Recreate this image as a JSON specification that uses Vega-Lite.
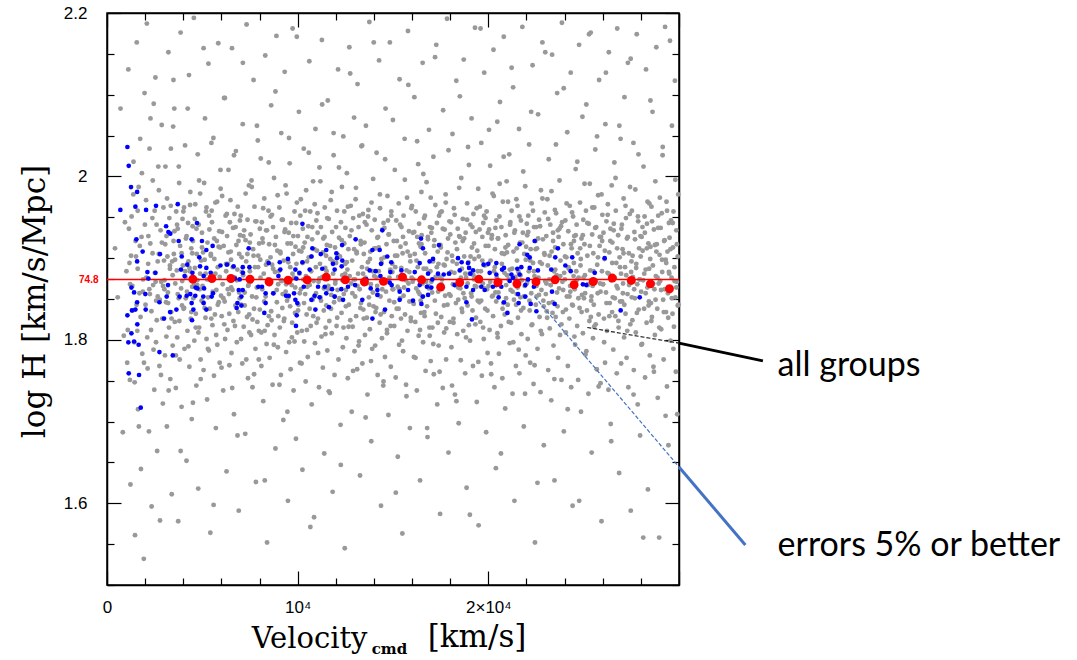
{
"$schema": "https://vega.github.io/schema/vega-lite/v6.json",
"width": 572, "height": 572,
"autosize": {"type": "none"},
"padding": {"left": 107, "top": 13, "right": 398, "bottom": 75},
"background": "white",
"config": {
 "view": {"stroke": "black", "strokeWidth": 1.5, "fill": "white"},
 "axis": {"grid": false, "zindex": 1, "domainColor": "black", "domainWidth": 1.5, "tickColor": "black", "tickWidth": 1.2, "labelColor": "black", "titleColor": "black"}
},
"datasets": {
 "all": [
{"v":420,"h":1.912},{"v":560,"h":1.852},{"v":710,"h":2.083},{"v":830,"h":1.687},{"v":940,"h":1.944},{"v":880,"h":1.805},
{"v":1060,"h":1.772},{"v":1120,"h":2.131},{"v":1180,"h":1.894},{"v":1230,"h":1.623},{"v":1290,"h":1.951},{"v":1340,"h":1.836},{"v":1390,"h":2.018},{"v":1450,"h":1.748},{"v":1470,"h":1.561},{"v":1210,"h":1.868},
{"v":1520,"h":1.902},{"v":1560,"h":2.164},{"v":1590,"h":1.811},{"v":1630,"h":1.715},{"v":1660,"h":1.987},{"v":1700,"h":1.857},{"v":1740,"h":2.046},{"v":1780,"h":1.642},{"v":1810,"h":1.926},{"v":1850,"h":1.783},{"v":1890,"h":1.874},{"v":1930,"h":1.532},{"v":1970,"h":2.102},{"v":1610,"h":1.958},
{"v":2020,"h":1.843},{"v":2050,"h":1.971},{"v":2090,"h":2.187},{"v":2130,"h":1.765},{"v":2160,"h":1.893},{"v":2200,"h":1.688},{"v":2230,"h":2.034},{"v":2270,"h":1.918},{"v":2310,"h":1.812},{"v":2340,"h":1.596},{"v":2380,"h":1.949},{"v":2420,"h":1.867},{"v":2450,"h":2.089},{"v":2480,"h":1.739},{"v":2250,"h":1.856},{"v":2400,"h":1.995},
{"v":2510,"h":1.882},{"v":2540,"h":2.121},{"v":2570,"h":1.797},{"v":2600,"h":1.941},{"v":2630,"h":1.664},{"v":2660,"h":1.853},{"v":2690,"h":2.012},{"v":2720,"h":1.905},{"v":2750,"h":1.768},{"v":2780,"h":1.579},{"v":2810,"h":1.934},{"v":2840,"h":1.871},{"v":2870,"h":2.063},{"v":2900,"h":1.826},{"v":2930,"h":1.722},{"v":2960,"h":1.962},{"v":2990,"h":1.897},{"v":2580,"h":1.848},
{"v":3015,"h":1.873},{"v":3040,"h":1.781},{"v":3065,"h":2.012},{"v":3095,"h":1.846},{"v":3120,"h":1.927},{"v":3140,"h":1.694},{"v":3170,"h":1.902},{"v":3195,"h":1.858},{"v":3220,"h":2.152},{"v":3250,"h":1.815},{"v":3270,"h":1.949},{"v":3300,"h":1.887},{"v":3320,"h":1.752},{"v":3345,"h":1.964},{"v":3370,"h":1.834},{"v":3395,"h":1.611},{"v":3420,"h":1.896},{"v":3445,"h":1.793},{"v":3470,"h":2.061},{"v":3490,"h":1.921},
{"v":3505,"h":1.905},{"v":3530,"h":2.083},{"v":3555,"h":1.822},{"v":3580,"h":1.869},{"v":3610,"h":1.741},{"v":3630,"h":1.957},{"v":3660,"h":1.885},{"v":3685,"h":1.803},{"v":3710,"h":1.936},{"v":3735,"h":1.578},{"v":3760,"h":1.851},{"v":3785,"h":1.992},{"v":3810,"h":1.776},{"v":3835,"h":1.915},{"v":3860,"h":2.176},{"v":3885,"h":1.863},{"v":3910,"h":1.718},{"v":3935,"h":1.842},{"v":3960,"h":1.948},{"v":3980,"h":1.891},
{"v":4015,"h":1.838},{"v":4040,"h":1.962},{"v":4065,"h":1.789},{"v":4095,"h":2.038},{"v":4120,"h":1.877},{"v":4140,"h":1.924},{"v":4170,"h":1.652},{"v":4195,"h":1.859},{"v":4220,"h":1.811},{"v":4250,"h":1.943},{"v":4270,"h":1.896},{"v":4300,"h":2.124},{"v":4320,"h":1.767},{"v":4345,"h":1.884},{"v":4370,"h":1.981},{"v":4395,"h":1.826},{"v":4420,"h":1.912},{"v":4445,"h":1.703},{"v":4470,"h":1.865},{"v":4490,"h":1.939},
{"v":4505,"h":1.921},{"v":4530,"h":1.851},{"v":4555,"h":2.194},{"v":4580,"h":1.799},{"v":4610,"h":1.888},{"v":4630,"h":1.966},{"v":4660,"h":1.832},{"v":4685,"h":1.744},{"v":4710,"h":1.905},{"v":4735,"h":1.873},{"v":4760,"h":2.027},{"v":4785,"h":1.618},{"v":4810,"h":1.941},{"v":4835,"h":1.815},{"v":4860,"h":1.862},{"v":4885,"h":1.979},{"v":4910,"h":1.776},{"v":4935,"h":1.897},{"v":4960,"h":1.848},{"v":4980,"h":1.931},
{"v":5015,"h":1.866},{"v":5040,"h":1.907},{"v":5065,"h":1.763},{"v":5095,"h":1.992},{"v":5120,"h":1.839},{"v":5140,"h":2.071},{"v":5170,"h":1.881},{"v":5195,"h":1.957},{"v":5220,"h":1.801},{"v":5250,"h":1.727},{"v":5270,"h":1.919},{"v":5300,"h":1.852},{"v":5320,"h":2.138},{"v":5345,"h":1.787},{"v":5370,"h":1.935},{"v":5395,"h":1.874},{"v":5420,"h":1.564},{"v":5445,"h":1.903},{"v":5470,"h":1.826},{"v":5490,"h":1.958},
{"v":5505,"h":1.944},{"v":5530,"h":1.818},{"v":5555,"h":1.877},{"v":5580,"h":2.047},{"v":5610,"h":1.756},{"v":5630,"h":1.899},{"v":5660,"h":1.831},{"v":5685,"h":1.968},{"v":5710,"h":1.692},{"v":5735,"h":1.861},{"v":5760,"h":1.921},{"v":5785,"h":1.794},{"v":5810,"h":1.889},{"v":5835,"h":2.163},{"v":5860,"h":1.846},{"v":5885,"h":1.933},{"v":5910,"h":1.772},{"v":5935,"h":1.913},{"v":5960,"h":1.985},{"v":5980,"h":1.854},
{"v":6015,"h":1.829},{"v":6040,"h":1.976},{"v":6065,"h":1.868},{"v":6095,"h":1.738},{"v":6120,"h":1.915},{"v":6140,"h":2.096},{"v":6170,"h":1.847},{"v":6195,"h":1.801},{"v":6220,"h":1.952},{"v":6250,"h":1.884},{"v":6270,"h":1.639},{"v":6300,"h":1.927},{"v":6320,"h":1.812},{"v":6345,"h":1.893},{"v":6370,"h":2.008},{"v":6395,"h":1.856},{"v":6420,"h":1.769},{"v":6445,"h":1.944},{"v":6470,"h":1.873},{"v":6490,"h":1.908},
{"v":6505,"h":1.898},{"v":6530,"h":1.784},{"v":6555,"h":2.157},{"v":6580,"h":1.861},{"v":6610,"h":1.937},{"v":6630,"h":1.823},{"v":6660,"h":1.709},{"v":6685,"h":1.954},{"v":6710,"h":1.876},{"v":6735,"h":1.842},{"v":6760,"h":2.031},{"v":6785,"h":1.916},{"v":6810,"h":1.797},{"v":6835,"h":1.886},{"v":6860,"h":1.963},{"v":6885,"h":1.834},{"v":6910,"h":1.591},{"v":6935,"h":1.905},{"v":6960,"h":1.851},{"v":6980,"h":1.928},
{"v":7015,"h":1.952},{"v":7040,"h":1.843},{"v":7065,"h":1.901},{"v":7095,"h":1.771},{"v":7120,"h":2.064},{"v":7140,"h":1.879},{"v":7170,"h":1.816},{"v":7195,"h":1.934},{"v":7220,"h":1.858},{"v":7250,"h":1.685},{"v":7270,"h":1.922},{"v":7300,"h":1.896},{"v":7320,"h":2.186},{"v":7345,"h":1.828},{"v":7370,"h":1.947},{"v":7395,"h":1.753},{"v":7420,"h":1.867},{"v":7445,"h":1.989},{"v":7470,"h":1.809},{"v":7490,"h":1.884},
{"v":7505,"h":1.871},{"v":7530,"h":1.929},{"v":7555,"h":1.806},{"v":7580,"h":1.995},{"v":7610,"h":1.853},{"v":7630,"h":1.742},{"v":7660,"h":1.911},{"v":7685,"h":2.118},{"v":7710,"h":1.838},{"v":7735,"h":1.963},{"v":7760,"h":1.889},{"v":7785,"h":1.789},{"v":7810,"h":1.626},{"v":7835,"h":1.945},{"v":7860,"h":1.864},{"v":7885,"h":1.822},{"v":7910,"h":2.044},{"v":7935,"h":1.903},{"v":7960,"h":1.776},{"v":7980,"h":1.918},
{"v":8015,"h":1.837},{"v":8040,"h":1.898},{"v":8065,"h":2.022},{"v":8095,"h":1.768},{"v":8120,"h":1.944},{"v":8140,"h":1.862},{"v":8170,"h":1.919},{"v":8195,"h":1.725},{"v":8220,"h":1.881},{"v":8250,"h":1.973},{"v":8270,"h":1.811},{"v":8300,"h":2.148},{"v":8320,"h":1.853},{"v":8345,"h":1.934},{"v":8370,"h":1.795},{"v":8395,"h":1.552},{"v":8420,"h":1.896},{"v":8445,"h":1.874},{"v":8470,"h":1.958},{"v":8490,"h":1.829},
{"v":8505,"h":1.917},{"v":8530,"h":1.778},{"v":8555,"h":1.869},{"v":8580,"h":1.951},{"v":8610,"h":2.087},{"v":8630,"h":1.824},{"v":8660,"h":1.892},{"v":8685,"h":1.745},{"v":8710,"h":1.938},{"v":8735,"h":1.857},{"v":8760,"h":1.998},{"v":8785,"h":1.806},{"v":8810,"h":1.883},{"v":8835,"h":1.667},{"v":8860,"h":1.926},{"v":8885,"h":2.172},{"v":8910,"h":1.846},{"v":8935,"h":1.909},{"v":8960,"h":1.791},{"v":8980,"h":1.868},
{"v":9015,"h":1.884},{"v":9040,"h":1.962},{"v":9065,"h":1.815},{"v":9095,"h":1.906},{"v":9120,"h":1.757},{"v":9140,"h":2.053},{"v":9170,"h":1.872},{"v":9195,"h":1.839},{"v":9220,"h":1.947},{"v":9250,"h":1.702},{"v":9270,"h":1.897},{"v":9300,"h":1.826},{"v":9320,"h":2.128},{"v":9345,"h":1.935},{"v":9370,"h":1.859},{"v":9395,"h":1.785},{"v":9420,"h":1.979},{"v":9445,"h":1.848},{"v":9470,"h":1.918},{"v":9490,"h":1.603},
{"v":9505,"h":1.852},{"v":9530,"h":1.931},{"v":9555,"h":1.797},{"v":9580,"h":2.016},{"v":9610,"h":1.889},{"v":9630,"h":1.764},{"v":9660,"h":1.943},{"v":9685,"h":1.867},{"v":9710,"h":1.821},{"v":9735,"h":2.181},{"v":9760,"h":1.905},{"v":9785,"h":1.738},{"v":9810,"h":1.876},{"v":9835,"h":1.957},{"v":9860,"h":1.833},{"v":9885,"h":1.914},{"v":9910,"h":1.679},{"v":9935,"h":1.893},{"v":9960,"h":1.968},{"v":9980,"h":1.809},
{"v":10015,"h":1.927},{"v":10040,"h":1.843},{"v":10065,"h":2.079},{"v":10095,"h":1.881},{"v":10120,"h":1.772},{"v":10140,"h":1.952},{"v":10170,"h":1.862},{"v":10195,"h":1.908},{"v":10220,"h":1.811},{"v":10250,"h":1.641},{"v":10270,"h":1.936},{"v":10300,"h":1.874},{"v":10320,"h":2.034},{"v":10345,"h":1.798},{"v":10370,"h":1.919},{"v":10395,"h":1.856},{"v":10420,"h":1.749},{"v":10445,"h":1.983},{"v":10470,"h":1.831},{"v":10490,"h":1.896},
{"v":10505,"h":1.865},{"v":10530,"h":1.779},{"v":10555,"h":1.939},{"v":10580,"h":1.901},{"v":10610,"h":2.141},{"v":10630,"h":1.838},{"v":10660,"h":1.957},{"v":10685,"h":1.817},{"v":10710,"h":1.884},{"v":10735,"h":1.721},{"v":10760,"h":1.923},{"v":10785,"h":1.849},{"v":10810,"h":1.994},{"v":10835,"h":1.872},{"v":10860,"h":1.583},{"v":10885,"h":1.911},{"v":10910,"h":1.796},{"v":10935,"h":2.058},{"v":10960,"h":1.857},{"v":10980,"h":1.946},
{"v":11015,"h":1.909},{"v":11040,"h":1.955},{"v":11065,"h":1.826},{"v":11095,"h":1.871},{"v":11120,"h":1.742},{"v":11140,"h":2.011},{"v":11170,"h":1.893},{"v":11195,"h":1.852},{"v":11220,"h":1.938},{"v":11250,"h":1.804},{"v":11270,"h":2.167},{"v":11300,"h":1.877},{"v":11320,"h":1.766},{"v":11345,"h":1.924},{"v":11370,"h":1.836},{"v":11395,"h":1.661},{"v":11420,"h":1.962},{"v":11445,"h":1.888},{"v":11470,"h":1.815},{"v":11490,"h":1.903},
{"v":11505,"h":1.842},{"v":11530,"h":1.916},{"v":11555,"h":1.787},{"v":11580,"h":2.093},{"v":11610,"h":1.866},{"v":11630,"h":1.948},{"v":11660,"h":1.823},{"v":11685,"h":1.735},{"v":11710,"h":1.899},{"v":11735,"h":1.971},{"v":11760,"h":1.855},{"v":11785,"h":1.808},{"v":11810,"h":1.932},{"v":11835,"h":1.614},{"v":11860,"h":1.881},{"v":11885,"h":2.026},{"v":11910,"h":1.846},{"v":11935,"h":1.757},{"v":11960,"h":1.913},{"v":11980,"h":1.872},
{"v":12015,"h":1.894},{"v":12040,"h":1.817},{"v":12065,"h":1.958},{"v":12095,"h":1.861},{"v":12120,"h":2.131},{"v":12140,"h":1.776},{"v":12170,"h":1.925},{"v":12195,"h":1.849},{"v":12220,"h":1.902},{"v":12250,"h":1.696},{"v":12270,"h":1.944},{"v":12300,"h":1.833},{"v":12320,"h":1.987},{"v":12345,"h":1.873},{"v":12370,"h":1.791},{"v":12395,"h":2.049},{"v":12420,"h":1.856},{"v":12445,"h":1.918},{"v":12470,"h":1.545},{"v":12490,"h":1.881},
{"v":12505,"h":1.937},{"v":12530,"h":1.861},{"v":12555,"h":1.802},{"v":12580,"h":2.004},{"v":12610,"h":1.886},{"v":12630,"h":1.753},{"v":12660,"h":1.911},{"v":12685,"h":1.843},{"v":12710,"h":2.158},{"v":12735,"h":1.927},{"v":12760,"h":1.824},{"v":12785,"h":1.964},{"v":12810,"h":1.869},{"v":12835,"h":1.712},{"v":12860,"h":1.897},{"v":12885,"h":1.816},{"v":12910,"h":1.949},{"v":12935,"h":1.874},{"v":12960,"h":2.072},{"v":12980,"h":1.786},
{"v":13015,"h":1.853},{"v":13040,"h":1.972},{"v":13065,"h":1.829},{"v":13095,"h":1.906},{"v":13120,"h":1.764},{"v":13140,"h":2.113},{"v":13170,"h":1.881},{"v":13195,"h":1.938},{"v":13220,"h":1.798},{"v":13250,"h":1.862},{"v":13270,"h":1.634},{"v":13300,"h":1.921},{"v":13320,"h":1.845},{"v":13345,"h":2.037},{"v":13370,"h":1.889},{"v":13395,"h":1.771},{"v":13420,"h":1.954},{"v":13445,"h":1.837},{"v":13470,"h":1.905},{"v":13490,"h":1.868},
{"v":13505,"h":1.919},{"v":13530,"h":1.806},{"v":13555,"h":1.876},{"v":13580,"h":2.062},{"v":13610,"h":1.941},{"v":13630,"h":1.827},{"v":13660,"h":1.733},{"v":13685,"h":1.895},{"v":13710,"h":1.959},{"v":13735,"h":1.852},{"v":13760,"h":2.189},{"v":13785,"h":1.813},{"v":13810,"h":1.908},{"v":13835,"h":1.868},{"v":13860,"h":1.676},{"v":13885,"h":1.934},{"v":13910,"h":1.789},{"v":13935,"h":1.884},{"v":13960,"h":1.997},{"v":13980,"h":1.841},
{"v":14015,"h":1.878},{"v":14040,"h":1.947},{"v":14065,"h":1.793},{"v":14095,"h":1.912},{"v":14120,"h":1.839},{"v":14140,"h":2.029},{"v":14170,"h":1.866},{"v":14195,"h":1.757},{"v":14220,"h":1.926},{"v":14250,"h":1.884},{"v":14270,"h":2.142},{"v":14300,"h":1.821},{"v":14320,"h":1.961},{"v":14345,"h":1.853},{"v":14370,"h":1.597},{"v":14395,"h":1.899},{"v":14420,"h":1.802},{"v":14445,"h":1.935},{"v":14470,"h":1.871},{"v":14490,"h":1.744},
{"v":14505,"h":1.943},{"v":14530,"h":1.834},{"v":14555,"h":1.901},{"v":14580,"h":1.779},{"v":14610,"h":2.083},{"v":14630,"h":1.859},{"v":14660,"h":1.917},{"v":14685,"h":1.812},{"v":14710,"h":1.976},{"v":14735,"h":1.873},{"v":14760,"h":1.708},{"v":14785,"h":1.929},{"v":14810,"h":1.848},{"v":14835,"h":2.164},{"v":14860,"h":1.886},{"v":14885,"h":1.767},{"v":14910,"h":1.952},{"v":14935,"h":1.829},{"v":14960,"h":1.893},{"v":14980,"h":1.862},
{"v":15015,"h":1.862},{"v":15040,"h":1.921},{"v":15065,"h":1.817},{"v":15095,"h":2.008},{"v":15120,"h":1.889},{"v":15140,"h":1.754},{"v":15170,"h":1.946},{"v":15195,"h":1.838},{"v":15220,"h":1.903},{"v":15250,"h":1.657},{"v":15270,"h":1.877},{"v":15300,"h":1.967},{"v":15320,"h":1.794},{"v":15345,"h":2.119},{"v":15370,"h":1.851},{"v":15395,"h":1.914},{"v":15420,"h":1.826},{"v":15445,"h":1.938},{"v":15470,"h":1.879},{"v":15490,"h":1.563},
{"v":15505,"h":1.906},{"v":15530,"h":1.786},{"v":15555,"h":1.952},{"v":15580,"h":1.864},{"v":15610,"h":2.046},{"v":15630,"h":1.831},{"v":15660,"h":1.918},{"v":15685,"h":1.745},{"v":15710,"h":1.885},{"v":15735,"h":1.974},{"v":15760,"h":1.811},{"v":15785,"h":2.178},{"v":15810,"h":1.869},{"v":15835,"h":1.933},{"v":15860,"h":1.847},{"v":15885,"h":1.692},{"v":15910,"h":1.896},{"v":15935,"h":1.823},{"v":15960,"h":1.961},{"v":15980,"h":1.876},
{"v":16015,"h":1.847},{"v":16040,"h":1.931},{"v":16065,"h":1.874},{"v":16095,"h":1.779},{"v":16120,"h":2.097},{"v":16140,"h":1.905},{"v":16170,"h":1.822},{"v":16195,"h":1.957},{"v":16220,"h":1.863},{"v":16250,"h":1.738},{"v":16270,"h":1.926},{"v":16300,"h":1.889},{"v":16320,"h":2.015},{"v":16345,"h":1.805},{"v":16370,"h":1.942},{"v":16395,"h":1.856},{"v":16420,"h":1.628},{"v":16445,"h":1.914},{"v":16470,"h":1.833},{"v":16490,"h":1.981},
{"v":16505,"h":1.928},{"v":16530,"h":1.853},{"v":16555,"h":2.139},{"v":16580,"h":1.797},{"v":16610,"h":1.887},{"v":16630,"h":1.949},{"v":16660,"h":1.829},{"v":16685,"h":1.906},{"v":16710,"h":1.762},{"v":16735,"h":1.871},{"v":16760,"h":1.993},{"v":16785,"h":1.841},{"v":16810,"h":1.681},{"v":16835,"h":1.923},{"v":16860,"h":1.866},{"v":16885,"h":2.057},{"v":16910,"h":1.815},{"v":16935,"h":1.938},{"v":16960,"h":1.884},{"v":16980,"h":1.774},
{"v":17015,"h":1.871},{"v":17040,"h":1.937},{"v":17065,"h":1.815},{"v":17095,"h":1.896},{"v":17120,"h":2.024},{"v":17140,"h":1.758},{"v":17170,"h":1.922},{"v":17195,"h":1.848},{"v":17220,"h":1.965},{"v":17250,"h":1.832},{"v":17270,"h":2.161},{"v":17300,"h":1.889},{"v":17320,"h":1.721},{"v":17345,"h":1.908},{"v":17370,"h":1.859},{"v":17395,"h":1.793},{"v":17420,"h":1.952},{"v":17445,"h":1.877},{"v":17470,"h":1.587},{"v":17490,"h":1.916},
{"v":17505,"h":1.913},{"v":17530,"h":1.828},{"v":17555,"h":1.957},{"v":17580,"h":1.866},{"v":17610,"h":1.741},{"v":17630,"h":2.081},{"v":17660,"h":1.892},{"v":17685,"h":1.809},{"v":17710,"h":1.935},{"v":17735,"h":1.854},{"v":17760,"h":1.978},{"v":17785,"h":1.776},{"v":17810,"h":1.899},{"v":17835,"h":2.193},{"v":17860,"h":1.843},{"v":17885,"h":1.924},{"v":17910,"h":1.662},{"v":17935,"h":1.881},{"v":17960,"h":1.945},{"v":17980,"h":1.822},
{"v":18015,"h":1.854},{"v":18040,"h":1.944},{"v":18065,"h":1.791},{"v":18095,"h":1.903},{"v":18120,"h":2.052},{"v":18140,"h":1.868},{"v":18170,"h":1.826},{"v":18195,"h":1.961},{"v":18220,"h":1.882},{"v":18250,"h":1.733},{"v":18270,"h":1.919},{"v":18300,"h":1.845},{"v":18320,"h":2.117},{"v":18345,"h":1.893},{"v":18370,"h":1.807},{"v":18395,"h":1.936},{"v":18420,"h":1.864},{"v":18445,"h":1.698},{"v":18470,"h":1.927},{"v":18490,"h":1.873},
{"v":18505,"h":1.926},{"v":18530,"h":1.863},{"v":18555,"h":1.775},{"v":18580,"h":1.998},{"v":18610,"h":1.887},{"v":18630,"h":1.834},{"v":18660,"h":1.948},{"v":18685,"h":1.811},{"v":18710,"h":2.143},{"v":18735,"h":1.902},{"v":18760,"h":1.851},{"v":18785,"h":1.759},{"v":18810,"h":1.931},{"v":18835,"h":1.876},{"v":18860,"h":1.619},{"v":18885,"h":1.967},{"v":18910,"h":1.842},{"v":18935,"h":2.036},{"v":18960,"h":1.895},{"v":18980,"h":1.818},
{"v":19015,"h":1.881},{"v":19040,"h":1.799},{"v":19065,"h":1.941},{"v":19095,"h":1.857},{"v":19120,"h":2.071},{"v":19140,"h":1.913},{"v":19170,"h":1.836},{"v":19195,"h":1.768},{"v":19220,"h":1.954},{"v":19250,"h":1.874},{"v":19270,"h":1.899},{"v":19300,"h":2.182},{"v":19320,"h":1.819},{"v":19345,"h":1.932},{"v":19370,"h":1.865},{"v":19395,"h":1.724},{"v":19420,"h":1.909},{"v":19445,"h":1.848},{"v":19470,"h":1.985},{"v":19490,"h":1.573},
{"v":19505,"h":1.902},{"v":19530,"h":1.846},{"v":19555,"h":1.963},{"v":19580,"h":1.822},{"v":19610,"h":1.884},{"v":19630,"h":2.041},{"v":19660,"h":1.756},{"v":19685,"h":1.926},{"v":19710,"h":1.869},{"v":19735,"h":1.943},{"v":19760,"h":1.801},{"v":19785,"h":2.127},{"v":19810,"h":1.891},{"v":19835,"h":1.838},{"v":19860,"h":1.915},{"v":19885,"h":1.687},{"v":19910,"h":1.957},{"v":19935,"h":1.862},{"v":19960,"h":1.784},{"v":19980,"h":1.931},
{"v":20015,"h":1.866},{"v":20040,"h":1.935},{"v":20065,"h":1.812},{"v":20095,"h":2.013},{"v":20120,"h":1.897},{"v":20140,"h":1.771},{"v":20170,"h":1.924},{"v":20195,"h":1.853},{"v":20220,"h":1.979},{"v":20250,"h":1.829},{"v":20270,"h":2.155},{"v":20300,"h":1.884},{"v":20320,"h":1.742},{"v":20345,"h":1.911},{"v":20370,"h":1.858},{"v":20395,"h":1.643},{"v":20420,"h":1.946},{"v":20445,"h":1.876},{"v":20470,"h":2.067},{"v":20490,"h":1.803},
{"v":20505,"h":1.924},{"v":20530,"h":1.858},{"v":20555,"h":1.783},{"v":20580,"h":1.951},{"v":20610,"h":2.091},{"v":20630,"h":1.872},{"v":20660,"h":1.817},{"v":20685,"h":1.938},{"v":20710,"h":1.893},{"v":20735,"h":1.753},{"v":20760,"h":1.969},{"v":20785,"h":1.845},{"v":20810,"h":2.171},{"v":20835,"h":1.905},{"v":20860,"h":1.831},{"v":20885,"h":1.716},{"v":20910,"h":1.928},{"v":20935,"h":1.867},{"v":20960,"h":1.994},{"v":20980,"h":1.879},
{"v":21015,"h":1.843},{"v":21040,"h":1.916},{"v":21065,"h":1.874},{"v":21095,"h":2.027},{"v":21120,"h":1.796},{"v":21140,"h":1.941},{"v":21170,"h":1.861},{"v":21195,"h":1.821},{"v":21220,"h":1.958},{"v":21250,"h":1.887},{"v":21270,"h":1.734},{"v":21300,"h":2.109},{"v":21320,"h":1.908},{"v":21345,"h":1.849},{"v":21370,"h":1.603},{"v":21395,"h":1.934},{"v":21420,"h":1.877},{"v":21445,"h":1.768},{"v":21470,"h":1.972},{"v":21490,"h":1.856},
{"v":21505,"h":1.897},{"v":21530,"h":1.964},{"v":21555,"h":1.827},{"v":21580,"h":1.883},{"v":21610,"h":2.058},{"v":21630,"h":1.759},{"v":21660,"h":1.919},{"v":21685,"h":1.852},{"v":21710,"h":1.946},{"v":21735,"h":1.807},{"v":21760,"h":1.873},{"v":21785,"h":2.183},{"v":21810,"h":1.931},{"v":21835,"h":1.839},{"v":21860,"h":1.694},{"v":21885,"h":1.905},{"v":21910,"h":1.866},{"v":21935,"h":1.988},{"v":21960,"h":1.781},{"v":21980,"h":1.914},
{"v":22015,"h":1.869},{"v":22040,"h":1.928},{"v":22065,"h":1.801},{"v":22095,"h":1.952},{"v":22120,"h":1.884},{"v":22140,"h":2.039},{"v":22170,"h":1.836},{"v":22195,"h":1.772},{"v":22220,"h":1.911},{"v":22250,"h":1.857},{"v":22270,"h":1.967},{"v":22300,"h":1.819},{"v":22320,"h":2.136},{"v":22345,"h":1.894},{"v":22370,"h":1.746},{"v":22395,"h":1.938},{"v":22420,"h":1.878},{"v":22445,"h":1.552},{"v":22470,"h":1.921},{"v":22490,"h":1.843},
{"v":22505,"h":1.938},{"v":22530,"h":1.853},{"v":22555,"h":1.912},{"v":22580,"h":1.789},{"v":22610,"h":2.076},{"v":22630,"h":1.876},{"v":22660,"h":1.947},{"v":22685,"h":1.828},{"v":22710,"h":1.895},{"v":22735,"h":1.736},{"v":22760,"h":1.983},{"v":22785,"h":1.861},{"v":22810,"h":1.807},{"v":22835,"h":2.164},{"v":22860,"h":1.923},{"v":22885,"h":1.848},{"v":22910,"h":1.671},{"v":22935,"h":1.906},{"v":22960,"h":1.956},{"v":22980,"h":1.872},
{"v":23015,"h":1.856},{"v":23040,"h":1.927},{"v":23065,"h":1.835},{"v":23095,"h":1.972},{"v":23120,"h":1.891},{"v":23140,"h":1.763},{"v":23170,"h":2.021},{"v":23195,"h":1.874},{"v":23220,"h":1.814},{"v":23250,"h":1.941},{"v":23270,"h":1.867},{"v":23300,"h":1.726},{"v":23320,"h":1.908},{"v":23345,"h":2.149},{"v":23370,"h":1.846},{"v":23395,"h":1.931},{"v":23420,"h":1.793},{"v":23445,"h":1.884},{"v":23470,"h":1.628},{"v":23490,"h":1.959},
{"v":23505,"h":1.913},{"v":23530,"h":1.828},{"v":23555,"h":1.955},{"v":23580,"h":1.879},{"v":23610,"h":2.102},{"v":23630,"h":1.841},{"v":23660,"h":1.778},{"v":23685,"h":1.926},{"v":23710,"h":1.863},{"v":23735,"h":1.995},{"v":23760,"h":1.806},{"v":23785,"h":1.897},{"v":23810,"h":1.939},{"v":23835,"h":1.751},{"v":23860,"h":2.188},{"v":23885,"h":1.871},{"v":23910,"h":1.834},{"v":23935,"h":1.917},{"v":23960,"h":1.688},{"v":23980,"h":1.882},
{"v":24015,"h":1.874},{"v":24040,"h":1.946},{"v":24065,"h":1.809},{"v":24095,"h":1.901},{"v":24120,"h":1.853},{"v":24140,"h":2.054},{"v":24170,"h":1.768},{"v":24195,"h":1.933},{"v":24220,"h":1.887},{"v":24250,"h":1.826},{"v":24270,"h":1.964},{"v":24300,"h":1.859},{"v":24320,"h":2.127},{"v":24345,"h":1.742},{"v":24370,"h":1.912},{"v":24395,"h":1.843},{"v":24420,"h":1.597},{"v":24445,"h":1.951},{"v":24470,"h":1.878},{"v":24490,"h":1.921},
{"v":24505,"h":1.927},{"v":24530,"h":1.862},{"v":24555,"h":1.794},{"v":24580,"h":2.009},{"v":24610,"h":1.884},{"v":24630,"h":1.941},{"v":24660,"h":1.817},{"v":24685,"h":1.906},{"v":24710,"h":1.751},{"v":24735,"h":1.876},{"v":24760,"h":2.161},{"v":24785,"h":1.839},{"v":24810,"h":1.968},{"v":24835,"h":1.891},{"v":24860,"h":1.712},{"v":24885,"h":1.924},{"v":24910,"h":1.855},{"v":24935,"h":2.073},{"v":24960,"h":1.808},{"v":24980,"h":1.947},
{"v":25015,"h":1.851},{"v":25040,"h":1.917},{"v":25065,"h":1.879},{"v":25095,"h":1.782},{"v":25120,"h":1.958},{"v":25140,"h":2.088},{"v":25170,"h":1.836},{"v":25195,"h":1.903},{"v":25220,"h":1.867},{"v":25250,"h":1.734},{"v":25270,"h":1.942},{"v":25300,"h":1.823},{"v":25320,"h":1.991},{"v":25345,"h":1.885},{"v":25370,"h":2.176},{"v":25395,"h":1.848},{"v":25420,"h":1.662},{"v":25445,"h":1.929},{"v":25470,"h":1.866},{"v":25490,"h":1.802},
{"v":25505,"h":1.906},{"v":25530,"h":1.843},{"v":25555,"h":1.962},{"v":25580,"h":1.871},{"v":25610,"h":2.033},{"v":25630,"h":1.819},{"v":25660,"h":1.938},{"v":25685,"h":1.764},{"v":25710,"h":1.892},{"v":25735,"h":1.857},{"v":25760,"h":1.977},{"v":25785,"h":1.831},{"v":25810,"h":2.118},{"v":25835,"h":1.915},{"v":25860,"h":1.869},{"v":25885,"h":1.747},{"v":25910,"h":1.926},{"v":25935,"h":1.578},{"v":25960,"h":1.884},{"v":25980,"h":1.953},
{"v":26015,"h":1.868},{"v":26040,"h":1.931},{"v":26065,"h":1.826},{"v":26095,"h":1.899},{"v":26120,"h":1.772},{"v":26140,"h":2.064},{"v":26170,"h":1.858},{"v":26195,"h":1.945},{"v":26220,"h":1.811},{"v":26250,"h":1.882},{"v":26270,"h":1.966},{"v":26300,"h":1.739},{"v":26320,"h":2.152},{"v":26345,"h":1.907},{"v":26370,"h":1.845},{"v":26395,"h":1.921},{"v":26420,"h":1.697},{"v":26445,"h":1.873},{"v":26470,"h":1.989},{"v":26490,"h":1.834},
{"v":26505,"h":1.919},{"v":26530,"h":1.852},{"v":26555,"h":1.788},{"v":26580,"h":1.942},{"v":26610,"h":2.017},{"v":26630,"h":1.876},{"v":26660,"h":1.829},{"v":26685,"h":1.958},{"v":26710,"h":1.894},{"v":26735,"h":1.759},{"v":26760,"h":2.181},{"v":26785,"h":1.863},{"v":26810,"h":1.928},{"v":26835,"h":1.815},{"v":26860,"h":1.637},{"v":26885,"h":1.901},{"v":26910,"h":1.847},{"v":26935,"h":2.046},{"v":26960,"h":1.881},{"v":26980,"h":1.936},
{"v":27015,"h":1.847},{"v":27040,"h":1.911},{"v":27065,"h":1.869},{"v":27095,"h":1.973},{"v":27120,"h":1.803},{"v":27140,"h":2.097},{"v":27170,"h":1.889},{"v":27195,"h":1.832},{"v":27220,"h":1.949},{"v":27250,"h":1.778},{"v":27270,"h":1.924},{"v":27300,"h":1.856},{"v":27320,"h":2.139},{"v":27345,"h":1.742},{"v":27370,"h":1.906},{"v":27395,"h":1.871},{"v":27420,"h":1.954},{"v":27445,"h":1.819},{"v":27470,"h":1.591},{"v":27490,"h":1.883},
{"v":27505,"h":1.896},{"v":27530,"h":1.958},{"v":27555,"h":1.824},{"v":27580,"h":1.877},{"v":27610,"h":2.041},{"v":27630,"h":1.763},{"v":27660,"h":1.932},{"v":27685,"h":1.851},{"v":27710,"h":1.984},{"v":27735,"h":1.809},{"v":27760,"h":1.893},{"v":27785,"h":2.174},{"v":27810,"h":1.868},{"v":27835,"h":1.721},{"v":27860,"h":1.945},{"v":27885,"h":1.837},{"v":27910,"h":1.912},{"v":27935,"h":1.874},{"v":27960,"h":1.683},{"v":27980,"h":1.927},
{"v":28015,"h":1.859},{"v":28040,"h":1.926},{"v":28065,"h":1.795},{"v":28095,"h":1.909},{"v":28120,"h":1.873},{"v":28140,"h":2.012},{"v":28170,"h":1.838},{"v":28195,"h":1.951},{"v":28220,"h":1.754},{"v":28250,"h":1.886},{"v":28270,"h":2.131},{"v":28300,"h":1.821},{"v":28320,"h":1.942},{"v":28345,"h":1.864},{"v":28370,"h":1.617},{"v":28395,"h":1.918},{"v":28420,"h":1.847},{"v":28445,"h":1.967},{"v":28470,"h":1.781},{"v":28490,"h":1.899},
{"v":28505,"h":1.914},{"v":28530,"h":1.845},{"v":28555,"h":1.963},{"v":28580,"h":1.828},{"v":28610,"h":2.079},{"v":28630,"h":1.891},{"v":28660,"h":1.767},{"v":28685,"h":1.935},{"v":28710,"h":1.862},{"v":28735,"h":1.806},{"v":28760,"h":1.994},{"v":28785,"h":1.878},{"v":28810,"h":2.158},{"v":28835,"h":1.917},{"v":28860,"h":1.838},{"v":28885,"h":1.729},{"v":28910,"h":1.952},{"v":28935,"h":1.869},{"v":28960,"h":1.558},{"v":28980,"h":1.904},
{"v":29015,"h":1.872},{"v":29040,"h":1.937},{"v":29065,"h":1.813},{"v":29095,"h":1.955},{"v":29120,"h":1.883},{"v":29140,"h":2.026},{"v":29170,"h":1.849},{"v":29195,"h":1.776},{"v":29220,"h":1.921},{"v":29250,"h":1.862},{"v":29270,"h":2.183},{"v":29300,"h":1.898},{"v":29320,"h":1.834},{"v":29345,"h":1.969},{"v":29370,"h":1.743},{"v":29395,"h":1.908},{"v":29420,"h":1.857},{"v":29445,"h":1.671},{"v":29470,"h":1.943},{"v":29490,"h":1.881},
{"v":29505,"h":1.925},{"v":29530,"h":1.861},{"v":29555,"h":1.799},{"v":29580,"h":1.946},{"v":29610,"h":1.876},{"v":29630,"h":2.062},{"v":29660,"h":1.832},{"v":29685,"h":1.913},{"v":29710,"h":1.957},{"v":29735,"h":1.816},{"v":29760,"h":1.889},{"v":29785,"h":2.117},{"v":29810,"h":1.852},{"v":29835,"h":1.761},{"v":29860,"h":1.934},{"v":29885,"h":1.871},{"v":29910,"h":1.709},{"v":29935,"h":1.902},{"v":29960,"h":1.978},{"v":29980,"h":1.843},
{"v":1020,"h":1.884},{"v":1090,"h":1.812},{"v":1150,"h":1.936},{"v":1200,"h":1.751},{"v":1260,"h":1.903},{"v":1330,"h":1.866},{"v":1380,"h":1.978},{"v":1430,"h":1.797},{"v":1500,"h":1.921},{"v":1550,"h":1.843},{"v":1610,"h":1.887},{"v":1670,"h":1.694},{"v":1720,"h":1.915},{"v":1760,"h":1.828},{"v":1830,"h":2.004},{"v":1880,"h":1.859},{"v":1940,"h":1.772},{"v":1990,"h":1.941},{"v":2060,"h":1.876},{"v":2110,"h":1.803},{"v":2170,"h":1.927},{"v":2220,"h":1.862},{"v":2280,"h":2.071},{"v":2330,"h":1.835},{"v":2390,"h":1.906},{"v":2440,"h":1.788},{"v":2500,"h":1.958},{"v":2550,"h":1.871},{"v":2610,"h":1.824},{"v":2660,"h":1.896},{"v":2720,"h":1.983},{"v":2770,"h":1.849},{"v":2830,"h":1.757},{"v":2880,"h":1.919},{"v":2940,"h":1.866},
{"v":3010,"h":1.862},{"v":3053,"h":1.917},{"v":3114,"h":1.804},{"v":3151,"h":1.973},{"v":3206,"h":1.845},{"v":3235,"h":1.738},{"v":3302,"h":1.891},{"v":3351,"h":2.034},{"v":3386,"h":1.826},{"v":3444,"h":1.879},{"v":3485,"h":2.118},{"v":3537,"h":1.933},
{"v":3570,"h":1.898},{"v":3613,"h":1.781},{"v":3674,"h":1.941},{"v":3711,"h":1.856},{"v":3766,"h":2.012},{"v":3795,"h":1.823},{"v":3862,"h":1.664},{"v":3911,"h":1.906},{"v":3946,"h":1.872},{"v":4004,"h":1.957},{"v":4045,"h":1.839},{"v":4097,"h":1.884},
{"v":4130,"h":1.851},{"v":4173,"h":1.927},{"v":4234,"h":2.083},{"v":4271,"h":1.792},{"v":4326,"h":1.888},{"v":4355,"h":1.965},{"v":4422,"h":1.834},{"v":4471,"h":1.906},{"v":4506,"h":1.723},{"v":4564,"h":1.869},{"v":4605,"h":1.948},{"v":4657,"h":1.815},
{"v":4690,"h":1.936},{"v":4733,"h":1.867},{"v":4794,"h":1.809},{"v":4831,"h":1.995},{"v":4886,"h":1.881},{"v":4915,"h":1.752},{"v":4982,"h":1.913},{"v":5031,"h":1.846},{"v":5066,"h":2.157},{"v":5124,"h":1.898},{"v":5165,"h":1.827},{"v":5217,"h":1.962},
{"v":5250,"h":1.874},{"v":5293,"h":1.789},{"v":5354,"h":1.952},{"v":5391,"h":1.838},{"v":5446,"h":1.905},{"v":5475,"h":2.041},{"v":5542,"h":1.859},{"v":5591,"h":1.598},{"v":5626,"h":1.924},{"v":5684,"h":1.881},{"v":5725,"h":1.806},{"v":5777,"h":1.969},
{"v":5810,"h":1.843},{"v":5853,"h":1.914},{"v":5914,"h":1.877},{"v":5951,"h":2.008},{"v":6006,"h":1.766},{"v":6035,"h":1.932},{"v":6102,"h":1.851},{"v":6151,"h":1.819},{"v":6186,"h":2.096},{"v":6244,"h":1.893},{"v":6285,"h":1.954},{"v":6337,"h":1.862},
{"v":6370,"h":1.907},{"v":6413,"h":1.832},{"v":6474,"h":1.971},{"v":6511,"h":1.864},{"v":6566,"h":1.741},{"v":6595,"h":1.889},{"v":6662,"h":2.026},{"v":6711,"h":1.817},{"v":6746,"h":1.938},{"v":6804,"h":1.873},{"v":6845,"h":1.683},{"v":6897,"h":1.921},
{"v":6930,"h":1.858},{"v":6973,"h":1.946},{"v":7034,"h":1.801},{"v":7071,"h":1.883},{"v":7126,"h":2.139},{"v":7155,"h":1.927},{"v":7222,"h":1.842},{"v":7271,"h":1.979},{"v":7306,"h":1.776},{"v":7364,"h":1.905},{"v":7405,"h":1.866},{"v":7457,"h":1.831},
{"v":7490,"h":1.919},{"v":7533,"h":1.871},{"v":7594,"h":1.987},{"v":7631,"h":1.825},{"v":7686,"h":1.903},{"v":7715,"h":1.758},{"v":7782,"h":1.945},{"v":7831,"h":1.852},{"v":7866,"h":2.062},{"v":7924,"h":1.889},{"v":7965,"h":1.811},{"v":8017,"h":1.936},
{"v":8050,"h":1.876},{"v":8093,"h":1.809},{"v":8154,"h":1.924},{"v":8191,"h":1.961},{"v":8246,"h":1.847},{"v":8275,"h":1.628},{"v":8342,"h":1.892},{"v":8391,"h":1.934},{"v":8426,"h":1.818},{"v":8484,"h":2.017},{"v":8525,"h":1.868},{"v":8577,"h":1.901},
{"v":8610,"h":1.835},{"v":8653,"h":1.953},{"v":8714,"h":1.887},{"v":8751,"h":1.794},{"v":8806,"h":1.916},{"v":8835,"h":2.104},{"v":8902,"h":1.861},{"v":8951,"h":1.977},{"v":8986,"h":1.829},{"v":9044,"h":1.745},{"v":9085,"h":1.908},{"v":9137,"h":1.873},
{"v":9170,"h":1.947},{"v":9213,"h":1.856},{"v":9274,"h":1.823},{"v":9311,"h":1.932},{"v":9366,"h":1.989},{"v":9395,"h":1.868},{"v":9462,"h":1.712},{"v":9511,"h":1.895},{"v":9546,"h":2.047},{"v":9604,"h":1.841},{"v":9645,"h":1.918},{"v":9697,"h":1.803},
{"v":9730,"h":1.881},{"v":9773,"h":1.927},{"v":9834,"h":1.798},{"v":9871,"h":1.864},{"v":9926,"h":1.943},{"v":9955,"h":2.171},{"v":10022,"h":1.836},{"v":10071,"h":1.909},{"v":10106,"h":1.857},{"v":10164,"h":1.972},{"v":10205,"h":1.771},{"v":10257,"h":1.894},
{"v":10290,"h":1.913},{"v":10333,"h":1.845},{"v":10394,"h":1.958},{"v":10431,"h":1.878},{"v":10486,"h":1.812},{"v":10515,"h":1.926},{"v":10582,"h":2.029},{"v":10631,"h":1.867},{"v":10666,"h":1.571},{"v":10724,"h":1.902},{"v":10765,"h":1.938},{"v":10817,"h":1.829},
{"v":10850,"h":1.852},{"v":10893,"h":1.966},{"v":10954,"h":1.889},{"v":10991,"h":1.821},{"v":11046,"h":1.931},{"v":11075,"h":1.784},{"v":11142,"h":1.875},{"v":11191,"h":1.994},{"v":11226,"h":1.848},{"v":11284,"h":2.088},{"v":11325,"h":1.907},{"v":11377,"h":1.863},
{"v":11410,"h":1.926},{"v":11453,"h":1.807},{"v":11514,"h":1.884},{"v":11551,"h":1.949},{"v":11606,"h":1.862},{"v":11635,"h":1.737},{"v":11702,"h":1.915},{"v":11751,"h":1.838},{"v":11786,"h":1.981},{"v":11844,"h":1.896},{"v":11885,"h":2.053},{"v":11937,"h":1.853},
{"v":11970,"h":1.869},{"v":12013,"h":1.938},{"v":12074,"h":1.827},{"v":12111,"h":1.904},{"v":12166,"h":2.011},{"v":12195,"h":1.851},{"v":12262,"h":1.647},{"v":12311,"h":1.922},{"v":12346,"h":1.879},{"v":12404,"h":1.815},{"v":12445,"h":1.957},{"v":12497,"h":1.893},
{"v":12530,"h":1.841},{"v":12573,"h":1.895},{"v":12634,"h":1.963},{"v":12671,"h":1.816},{"v":12726,"h":1.878},{"v":12755,"h":2.126},{"v":12822,"h":1.934},{"v":12871,"h":1.857},{"v":12906,"h":1.762},{"v":12964,"h":1.911},{"v":13005,"h":1.874},{"v":13057,"h":1.986},
{"v":13090,"h":1.908},{"v":13133,"h":1.866},{"v":13194,"h":1.793},{"v":13231,"h":1.952},{"v":13286,"h":1.839},{"v":13315,"h":1.917},{"v":13382,"h":2.038},{"v":13431,"h":1.881},{"v":13466,"h":1.826},{"v":13524,"h":1.944},{"v":13565,"h":1.705},{"v":13617,"h":1.869},
{"v":13650,"h":1.887},{"v":13693,"h":1.951},{"v":13754,"h":1.843},{"v":13791,"h":1.899},{"v":13846,"h":1.774},{"v":13875,"h":1.968},{"v":13942,"h":1.858},{"v":13991,"h":2.164},{"v":14026,"h":1.912},{"v":14084,"h":1.834},{"v":14125,"h":1.876},{"v":14177,"h":1.925},
{"v":14210,"h":1.855},{"v":14253,"h":1.913},{"v":14314,"h":1.978},{"v":14351,"h":1.831},{"v":14406,"h":1.894},{"v":14435,"h":1.862},{"v":14502,"h":1.749},{"v":14551,"h":1.937},{"v":14586,"h":2.021},{"v":14644,"h":1.871},{"v":14685,"h":1.808},{"v":14737,"h":1.946},
{"v":14770,"h":1.929},{"v":14813,"h":1.876},{"v":14874,"h":1.817},{"v":14911,"h":1.957},{"v":14966,"h":1.883},{"v":14995,"h":2.069},{"v":15062,"h":1.846},{"v":15111,"h":1.903},{"v":15146,"h":1.613},{"v":15204,"h":1.921},{"v":15245,"h":1.865},{"v":15297,"h":1.838},
{"v":15330,"h":1.862},{"v":15373,"h":1.941},{"v":15434,"h":1.888},{"v":15471,"h":1.799},{"v":15526,"h":1.926},{"v":15555,"h":1.854},{"v":15622,"h":1.996},{"v":15671,"h":1.873},{"v":15706,"h":1.731},{"v":15764,"h":1.908},{"v":15805,"h":2.112},{"v":15857,"h":1.883},
{"v":15890,"h":1.903},{"v":15933,"h":1.827},{"v":15994,"h":1.964},{"v":16031,"h":1.871},{"v":16086,"h":1.844},{"v":16115,"h":1.932},{"v":16182,"h":1.778},{"v":16231,"h":1.897},{"v":16266,"h":2.043},{"v":16324,"h":1.859},{"v":16365,"h":1.918},{"v":16417,"h":1.812},
{"v":16450,"h":1.848},{"v":16493,"h":1.917},{"v":16554,"h":1.869},{"v":16591,"h":2.003},{"v":16646,"h":1.834},{"v":16675,"h":1.952},{"v":16742,"h":1.887},{"v":16791,"h":1.692},{"v":16826,"h":1.926},{"v":16884,"h":1.863},{"v":16925,"h":1.805},{"v":16977,"h":1.974},
{"v":17010,"h":1.931},{"v":17053,"h":1.858},{"v":17114,"h":1.795},{"v":17151,"h":1.915},{"v":17206,"h":2.146},{"v":17235,"h":1.877},{"v":17302,"h":1.943},{"v":17351,"h":1.821},{"v":17386,"h":1.893},{"v":17444,"h":1.761},{"v":17485,"h":1.956},{"v":17537,"h":1.868},
{"v":17570,"h":1.874},{"v":17613,"h":1.936},{"v":17674,"h":1.842},{"v":17711,"h":1.891},{"v":17766,"h":1.968},{"v":17795,"h":1.814},{"v":17862,"h":1.907},{"v":17911,"h":2.032},{"v":17946,"h":1.856},{"v":18004,"h":1.929},{"v":18045,"h":1.883},{"v":18097,"h":1.744},
{"v":18130,"h":1.896},{"v":18173,"h":1.821},{"v":18234,"h":1.953},{"v":18271,"h":1.867},{"v":18326,"h":1.725},{"v":18355,"h":1.911},{"v":18422,"h":1.849},{"v":18471,"h":1.986},{"v":18506,"h":2.098},{"v":18564,"h":1.876},{"v":18605,"h":1.838},{"v":18657,"h":1.921},
{"v":18690,"h":1.857},{"v":18733,"h":1.924},{"v":18794,"h":1.881},{"v":18831,"h":1.803},{"v":18886,"h":1.947},{"v":18915,"h":1.869},{"v":18982,"h":2.014},{"v":19031,"h":1.586},{"v":19066,"h":1.902},{"v":19124,"h":1.853},{"v":19165,"h":1.938},{"v":19217,"h":1.879},
{"v":19250,"h":1.918},{"v":19293,"h":1.866},{"v":19354,"h":1.827},{"v":19391,"h":1.961},{"v":19446,"h":1.884},{"v":19475,"h":1.773},{"v":19542,"h":1.935},{"v":19591,"h":2.181},{"v":19626,"h":1.848},{"v":19684,"h":1.897},{"v":19725,"h":1.815},{"v":19777,"h":1.952},
{"v":19810,"h":1.863},{"v":19853,"h":1.949},{"v":19914,"h":1.892},{"v":19951,"h":1.836},{"v":20006,"h":1.915},{"v":20035,"h":2.057},{"v":20102,"h":1.871},{"v":20151,"h":1.758},{"v":20186,"h":1.928},{"v":20244,"h":1.854},{"v":20285,"h":1.976},{"v":20337,"h":1.889},
{"v":20370,"h":1.937},{"v":20413,"h":1.847},{"v":20474,"h":1.808},{"v":20511,"h":1.924},{"v":20566,"h":1.871},{"v":20595,"h":1.991},{"v":20662,"h":1.661},{"v":20711,"h":1.906},{"v":20746,"h":1.838},{"v":20804,"h":2.024},{"v":20845,"h":1.882},{"v":20897,"h":1.913},
{"v":20930,"h":1.851},{"v":20973,"h":1.907},{"v":21034,"h":1.969},{"v":21071,"h":1.822},{"v":21126,"h":1.886},{"v":21155,"h":1.944},{"v":21222,"h":2.133},{"v":21271,"h":1.859},{"v":21306,"h":1.797},{"v":21364,"h":1.931},{"v":21405,"h":1.874},{"v":21457,"h":1.843},
{"v":21490,"h":1.912},{"v":21533,"h":1.864},{"v":21594,"h":1.788},{"v":21631,"h":1.951},{"v":21686,"h":1.879},{"v":21715,"h":1.836},{"v":21782,"h":1.919},{"v":21831,"h":2.006},{"v":21866,"h":1.853},{"v":21924,"h":1.734},{"v":21965,"h":1.898},{"v":22017,"h":1.942},
{"v":22050,"h":1.872},{"v":22093,"h":1.932},{"v":22154,"h":1.848},{"v":22191,"h":1.897},{"v":22246,"h":2.079},{"v":22275,"h":1.818},{"v":22342,"h":1.958},{"v":22391,"h":1.884},{"v":22426,"h":1.769},{"v":22484,"h":1.911},{"v":22525,"h":1.866},{"v":22577,"h":1.625},
{"v":22610,"h":1.924},{"v":22653,"h":1.855},{"v":22714,"h":1.939},{"v":22751,"h":1.811},{"v":22806,"h":1.893},{"v":22835,"h":1.973},{"v":22902,"h":1.841},{"v":22951,"h":1.904},{"v":22986,"h":2.152},{"v":23044,"h":1.869},{"v":23085,"h":1.827},{"v":23137,"h":1.948},
{"v":23170,"h":1.845},{"v":23213,"h":1.903},{"v":23274,"h":1.867},{"v":23311,"h":1.982},{"v":23366,"h":1.833},{"v":23395,"h":1.921},{"v":23462,"h":1.752},{"v":23511,"h":1.886},{"v":23546,"h":2.039},{"v":23604,"h":1.858},{"v":23645,"h":1.934},{"v":23697,"h":1.876},
{"v":23730,"h":1.936},{"v":23773,"h":1.878},{"v":23834,"h":1.819},{"v":23871,"h":1.944},{"v":23926,"h":1.861},{"v":23955,"h":2.108},{"v":24022,"h":1.902},{"v":24071,"h":1.837},{"v":24106,"h":1.967},{"v":24164,"h":1.715},{"v":24205,"h":1.889},{"v":24257,"h":1.853},
{"v":24290,"h":1.866},{"v":24333,"h":1.917},{"v":24394,"h":1.956},{"v":24431,"h":1.842},{"v":24486,"h":1.894},{"v":24515,"h":1.804},{"v":24582,"h":1.928},{"v":24631,"h":1.873},{"v":24666,"h":2.018},{"v":24724,"h":1.851},{"v":24765,"h":1.603},{"v":24817,"h":1.912},
{"v":24850,"h":1.899},{"v":24893,"h":1.834},{"v":24954,"h":1.928},{"v":24991,"h":1.876},{"v":25046,"h":1.991},{"v":25075,"h":1.857},{"v":25142,"h":1.786},{"v":25191,"h":1.943},{"v":25226,"h":1.868},{"v":25284,"h":2.174},{"v":25325,"h":1.915},{"v":25377,"h":1.828},
{"v":25410,"h":1.853},{"v":25453,"h":1.962},{"v":25514,"h":1.884},{"v":25551,"h":1.816},{"v":25606,"h":1.937},{"v":25635,"h":1.872},{"v":25702,"h":2.049},{"v":25751,"h":1.901},{"v":25786,"h":1.743},{"v":25844,"h":1.926},{"v":25885,"h":1.859},{"v":25937,"h":1.978},
{"v":25970,"h":1.921},{"v":26013,"h":1.868},{"v":26074,"h":1.797},{"v":26111,"h":1.909},{"v":26166,"h":2.127},{"v":26195,"h":1.845},{"v":26262,"h":1.953},{"v":26311,"h":1.881},{"v":26346,"h":1.829},{"v":26404,"h":1.936},{"v":26445,"h":1.676},{"v":26497,"h":1.894},
{"v":26530,"h":1.877},{"v":26573,"h":1.934},{"v":26634,"h":1.851},{"v":26671,"h":1.998},{"v":26726,"h":1.866},{"v":26755,"h":1.912},{"v":26822,"h":1.823},{"v":26871,"h":2.062},{"v":26906,"h":1.889},{"v":26964,"h":1.771},{"v":27005,"h":1.941},{"v":27057,"h":1.857},
{"v":27090,"h":1.906},{"v":27133,"h":1.843},{"v":27194,"h":1.964},{"v":27231,"h":1.879},{"v":27286,"h":1.811},{"v":27315,"h":1.926},{"v":27382,"h":1.867},{"v":27431,"h":1.987},{"v":27466,"h":2.144},{"v":27524,"h":1.852},{"v":27565,"h":1.903},{"v":27617,"h":1.733},
{"v":27650,"h":1.862},{"v":27693,"h":1.923},{"v":27754,"h":1.888},{"v":27791,"h":1.833},{"v":27846,"h":1.951},{"v":27875,"h":2.027},{"v":27942,"h":1.874},{"v":27991,"h":1.902},{"v":28026,"h":1.794},{"v":28084,"h":1.938},{"v":28125,"h":1.558},{"v":28177,"h":1.881},
{"v":28210,"h":1.931},{"v":28253,"h":1.857},{"v":28314,"h":1.912},{"v":28351,"h":1.969},{"v":28406,"h":1.842},{"v":28435,"h":1.887},{"v":28502,"h":2.093},{"v":28551,"h":1.823},{"v":28586,"h":1.945},{"v":28644,"h":1.869},{"v":28685,"h":1.761},{"v":28737,"h":1.916},
{"v":28770,"h":1.849},{"v":28813,"h":1.908},{"v":28874,"h":1.876},{"v":28911,"h":1.937},{"v":28966,"h":1.815},{"v":28995,"h":1.974},{"v":29062,"h":1.861},{"v":29111,"h":1.898},{"v":29146,"h":2.036},{"v":29204,"h":1.834},{"v":29245,"h":1.922},{"v":29297,"h":1.707},
{"v":29330,"h":1.894},{"v":29373,"h":1.958},{"v":29434,"h":1.827},{"v":29471,"h":1.883},{"v":29526,"h":2.166},{"v":29555,"h":1.911},{"v":29622,"h":1.851},{"v":29671,"h":1.943},{"v":29706,"h":1.789},{"v":29764,"h":1.872},{"v":29805,"h":1.996},{"v":29857,"h":1.864},
{"v":29890,"h":1.917},{"v":29933,"h":1.842}
 ],
 "good": [
{"v":1070,"h":2.036},{"v":1140,"h":2.013},{"v":1260,"h":1.987},{"v":1580,"h":1.981},{"v":700,"h":1.959},{"v":1490,"h":1.963},{"v":2050,"h":1.959},{"v":2570,"h":1.964},{"v":3710,"h":1.966},{"v":4720,"h":1.943},{"v":3100,"h":1.939},{"v":3220,"h":1.932},{"v":3320,"h":1.930},{"v":1540,"h":1.923},{"v":3760,"h":1.921},{"v":4440,"h":1.923},{"v":4980,"h":1.921},{"v":5540,"h":1.915},{"v":5210,"h":1.910},{"v":7430,"h":1.912},
{"v":1870,"h":1.908},{"v":2780,"h":1.905},{"v":3920,"h":1.902},{"v":4840,"h":1.901},{"v":1580,"h":1.896},{"v":4210,"h":1.892},{"v":3880,"h":1.886},{"v":4880,"h":1.890},{"v":5210,"h":1.888},{"v":5950,"h":1.891},{"v":6290,"h":1.892},{"v":6640,"h":1.890},{"v":7120,"h":1.889},{"v":7470,"h":1.889},{"v":8480,"h":1.894},{"v":9060,"h":1.895},{"v":9490,"h":1.899},{"v":9090,"h":1.886},{"v":8990,"h":1.878},{"v":2120,"h":1.883},
{"v":2540,"h":1.882},{"v":2170,"h":1.875},{"v":3200,"h":1.867},{"v":4070,"h":1.878},{"v":4480,"h":1.882},{"v":5070,"h":1.878},{"v":5440,"h":1.882},{"v":7130,"h":1.882},{"v":6960,"h":1.874},{"v":6700,"h":1.875},{"v":9880,"h":1.886},{"v":10090,"h":1.882},{"v":9930,"h":1.875},{"v":1280,"h":1.864},{"v":1420,"h":1.858},{"v":2010,"h":1.856},{"v":3130,"h":1.853},{"v":2750,"h":1.846},{"v":1580,"h":1.846},{"v":3810,"h":1.853},
{"v":4180,"h":1.854},{"v":4650,"h":1.864},{"v":4370,"h":1.856},{"v":4740,"h":1.863},{"v":5090,"h":1.863},{"v":4630,"h":1.854},{"v":5050,"h":1.853},{"v":5490,"h":1.853},{"v":5560,"h":1.857},{"v":4440,"h":1.845},{"v":5070,"h":1.845},{"v":4530,"h":1.837},{"v":5210,"h":1.837},{"v":6910,"h":1.861},{"v":7120,"h":1.861},{"v":7050,"h":1.853},{"v":6840,"h":1.845},{"v":7050,"h":1.842},{"v":6800,"h":1.839},{"v":7940,"h":1.865},
{"v":8130,"h":1.865},{"v":8320,"h":1.857},{"v":8320,"h":1.845},{"v":8250,"h":1.833},{"v":8720,"h":1.857},{"v":9390,"h":1.854},{"v":9530,"h":1.854},{"v":9810,"h":1.857},{"v":9880,"h":1.849},{"v":9980,"h":1.845},{"v":1310,"h":1.836},{"v":1070,"h":1.830},{"v":1490,"h":1.837},{"v":2030,"h":1.837},{"v":3310,"h":1.834},{"v":3640,"h":1.837},{"v":2990,"h":1.826},{"v":1590,"h":1.819},{"v":4460,"h":1.824},{"v":9950,"h":1.830},
{"v":9910,"h":1.817},{"v":1280,"h":1.808},{"v":1120,"h":1.797},{"v":1420,"h":1.798},{"v":1660,"h":1.794},{"v":2750,"h":1.785},{"v":3450,"h":1.781},{"v":1140,"h":1.759},{"v":1680,"h":1.757},{"v":1770,"h":1.717},
{"v":10250,"h":1.942},{"v":14440,"h":1.934},{"v":13040,"h":1.923},{"v":12330,"h":1.916},{"v":10770,"h":1.912},{"v":11500,"h":1.910},{"v":11210,"h":1.905},{"v":12030,"h":1.906},{"v":12060,"h":1.900},{"v":12340,"h":1.897},{"v":10720,"h":1.902},{"v":13920,"h":1.910},{"v":14300,"h":1.910},{"v":14700,"h":1.902},{"v":14910,"h":1.895},{"v":14370,"h":1.893},{"v":11850,"h":1.893},{"v":10250,"h":1.895},{"v":12310,"h":1.890},{"v":10630,"h":1.886},
{"v":11290,"h":1.887},{"v":11940,"h":1.886},{"v":16470,"h":1.924},{"v":16570,"h":1.912},{"v":17410,"h":1.916},{"v":17100,"h":1.899},{"v":16920,"h":1.896},{"v":16400,"h":1.894},{"v":18410,"h":1.900},{"v":18600,"h":1.895},{"v":18930,"h":1.894},{"v":18990,"h":1.888},{"v":19750,"h":1.892},{"v":20000,"h":1.893},{"v":20420,"h":1.894},{"v":13780,"h":1.885},{"v":14090,"h":1.884},{"v":14860,"h":1.883},{"v":14340,"h":1.878},{"v":15440,"h":1.885},
{"v":16140,"h":1.883},{"v":16840,"h":1.881},{"v":17360,"h":1.881},{"v":17660,"h":1.880},{"v":17940,"h":1.881},{"v":18500,"h":1.885},{"v":19060,"h":1.881},{"v":19200,"h":1.885},{"v":20070,"h":1.882},{"v":20420,"h":1.880},{"v":10320,"h":1.865},{"v":11070,"h":1.865},{"v":11420,"h":1.865},{"v":11800,"h":1.862},{"v":12290,"h":1.862},{"v":12640,"h":1.865},{"v":13010,"h":1.867},{"v":13600,"h":1.874},{"v":13830,"h":1.863},{"v":14180,"h":1.861},
{"v":14830,"h":1.870},{"v":14930,"h":1.867},{"v":15350,"h":1.859},{"v":15790,"h":1.861},{"v":16400,"h":1.867},{"v":16780,"h":1.865},{"v":17010,"h":1.864},{"v":17060,"h":1.874},{"v":18230,"h":1.867},{"v":18850,"h":1.865},{"v":19200,"h":1.861},{"v":19630,"h":1.865},{"v":19810,"h":1.861},{"v":20240,"h":1.865},{"v":20420,"h":1.867},{"v":10890,"h":1.854},{"v":11150,"h":1.852},{"v":11500,"h":1.857},{"v":11940,"h":1.853},{"v":10720,"h":1.849},
{"v":12380,"h":1.849},{"v":13390,"h":1.849},{"v":14180,"h":1.855},{"v":15350,"h":1.849},{"v":16570,"h":1.853},{"v":16840,"h":1.855},{"v":16050,"h":1.848},{"v":16490,"h":1.844},{"v":18850,"h":1.846},{"v":10930,"h":1.837},{"v":11640,"h":1.840},{"v":14580,"h":1.837},{"v":13920,"h":1.826},{"v":19140,"h":1.825},
{"v":21640,"h":1.917},{"v":22430,"h":1.921},{"v":23650,"h":1.912},{"v":22040,"h":1.904},{"v":22170,"h":1.901},{"v":23510,"h":1.901},{"v":24400,"h":1.901},{"v":26100,"h":1.900},{"v":20820,"h":1.888},{"v":20720,"h":1.886},{"v":21520,"h":1.887},{"v":21730,"h":1.889},{"v":21640,"h":1.880},{"v":21210,"h":1.880},{"v":21290,"h":1.876},{"v":22170,"h":1.888},{"v":22600,"h":1.885},{"v":23300,"h":1.886},{"v":24040,"h":1.891},{"v":24320,"h":1.884},
{"v":25580,"h":1.882},{"v":20680,"h":1.865},{"v":21120,"h":1.872},{"v":21940,"h":1.867},{"v":22080,"h":1.874},{"v":22390,"h":1.865},{"v":23340,"h":1.859},{"v":24960,"h":1.868},{"v":25140,"h":1.867},{"v":20540,"h":1.852},{"v":20820,"h":1.846},{"v":21560,"h":1.856},{"v":21590,"h":1.845},{"v":21940,"h":1.853},{"v":22220,"h":1.844},{"v":22520,"h":1.835},{"v":21000,"h":1.833},{"v":23480,"h":1.844},{"v":27940,"h":1.852},{"v":26940,"h":1.836}
 ],
 "mean": [
{"v":4500,"h":1.8743},{"v":5500,"h":1.8751},{"v":6500,"h":1.8751},{"v":7500,"h":1.8743},{"v":8500,"h":1.871},{"v":9500,"h":1.873},{"v":10500,"h":1.8734},{"v":11500,"h":1.8768},{"v":12500,"h":1.8734},{"v":13500,"h":1.871},{"v":14500,"h":1.8716},{"v":15500,"h":1.8768},{"v":16500,"h":1.8735},{"v":17500,"h":1.8645},{"v":18500,"h":1.8702},{"v":19500,"h":1.8743},{"v":20500,"h":1.8702},{"v":21500,"h":1.8686},{"v":22500,"h":1.871},{"v":23500,"h":1.8735},{"v":24500,"h":1.8674},{"v":25500,"h":1.8714},{"v":26500,"h":1.8756},{"v":27500,"h":1.8727},{"v":28500,"h":1.8686},{"v":29500,"h":1.8625}
 ]
},
"layer": [
 {
  "data": {"name": "all"},
  "mark": {"type": "circle", "size": 24, "color": "#999999", "opacity": 1},
  "encoding": {
   "x": {"field": "v", "type": "quantitative", "scale": {"domain": [0, 30000], "nice": false, "zero": false},
    "axis": {"orient": "bottom", "values": [0,2000,4000,6000,8000,10000,12000,14000,16000,18000,20000,22000,24000,26000,28000,30000],
     "tickSize": {"condition": {"test": "datum.value % 10000 === 0", "value": -14}, "value": -7},
     "labelExpr": "datum.value === 0 ? '0' : datum.value === 10000 ? '10⁴' : datum.value === 20000 ? '2×10⁴' : ''",
     "labelFont": "Liberation Sans", "labelFontSize": 17, "labelPadding": 28, "labelFlush": false, "labelOverlap": false,
     "title": "Velocity", "titleFont": "DejaVu Serif", "titleFontSize": 29, "titleFontWeight": "normal",
     "titleAlign": "right", "titleBaseline": "alphabetic", "titleX": 260, "titleY": 62}},
   "y": {"field": "h", "type": "quantitative", "scale": {"domain": [1.5, 2.2], "nice": false, "zero": false},
    "axis": {"orient": "left", "values": [1.5,1.55,1.6,1.65,1.7,1.75,1.8,1.85,1.8739,1.9,1.95,2,2.05,2.1,2.15,2.2],
     "tickSize": {"condition": {"test": "abs(datum.value*5-round(datum.value*5))<0.001", "value": -14}, "value": -7},
     "tickColor": {"condition": {"test": "abs(datum.value-1.8739)<0.0001", "value": "#ff0000"}, "value": "black"},
     "labelExpr": "abs(datum.value-1.8739)<0.0001 ? '74.8' : (abs(datum.value*5-round(datum.value*5))<0.001 ? replace(format(datum.value,'.1f'),'.0','') : '')",
     "labelFont": "Liberation Sans",
     "labelFontSize": {"condition": {"test": "abs(datum.value-1.8739)<0.0001", "value": 10}, "value": 17},
     "labelFontWeight": {"condition": {"test": "abs(datum.value-1.8739)<0.0001", "value": "bold"}, "value": "normal"},
     "labelColor": {"condition": {"test": "abs(datum.value-1.8739)<0.0001", "value": "#ff0000"}, "value": "black"},
     "labelPadding": {"condition": {"test": "abs(datum.value*5-round(datum.value*5))<0.001", "value": 34}, "value": 16},
     "labelOverlap": false, "labelFlush": false,
     "title": "log H [km/s/Mpc]", "titleFont": "DejaVu Serif", "titleFontSize": 31, "titleFontWeight": "normal",
     "titleX": -72, "titleY": 288, "titleAlign": "center", "titleBaseline": "middle", "titleAngle": 270}}
  }
 },
 {
  "data": {"values": [{}]},
  "mark": {"type": "rule", "color": "#ff0000", "strokeWidth": 1.5},
  "encoding": {"y": {"datum": 1.8739, "type": "quantitative", "axis": null}}
 },
 {
  "data": {"name": "good"},
  "mark": {"type": "circle", "size": 22, "color": "#0000ff", "opacity": 1},
  "encoding": {
   "x": {"field": "v", "type": "quantitative", "scale": {"domain": [0, 30000], "nice": false, "zero": false},
    "axis": {"orient": "top", "values": [0,2000,4000,6000,8000,10000,12000,14000,16000,18000,20000,22000,24000,26000,28000,30000],
     "tickSize": {"condition": {"test": "datum.value % 10000 === 0", "value": -14}, "value": -7}, "labels": false, "title": null}},
   "y": {"field": "h", "type": "quantitative", "scale": {"domain": [1.5, 2.2], "nice": false, "zero": false},
    "axis": {"orient": "right", "values": [1.5,1.55,1.6,1.65,1.7,1.75,1.8,1.85,1.9,1.95,2,2.05,2.1,2.15,2.2],
     "tickSize": {"condition": {"test": "abs(datum.value*5-round(datum.value*5))<0.001", "value": -14}, "value": -7}, "labels": false, "title": null}}
  }
 },
 {
  "data": {"name": "mean"},
  "mark": {"type": "circle", "size": 80, "color": "#ff0000", "opacity": 1},
  "encoding": {
   "x": {"field": "v", "type": "quantitative", "axis": null},
   "y": {"field": "h", "type": "quantitative", "axis": null}
  }
 },
 {
  "data": {"values": [{}]},
  "mark": {"type": "rule", "color": "#222222", "strokeWidth": 1.2, "strokeDash": [4, 2], "clip": false},
  "encoding": {"x": {"datum": 25190, "type": "quantitative", "axis": null}, "y": {"datum": 1.8151, "type": "quantitative", "axis": null}, "x2": {"datum": 30000}, "y2": {"datum": 1.796}}
 },
 {
  "data": {"values": [{}]},
  "mark": {"type": "rule", "color": "#000000", "strokeWidth": 3, "clip": false},
  "encoding": {"x": {"datum": 30000, "type": "quantitative", "axis": null}, "y": {"datum": 1.796, "type": "quantitative", "axis": null}, "x2": {"datum": 34400}, "y2": {"datum": 1.7743}}
 },
 {
  "data": {"values": [{}]},
  "mark": {"type": "rule", "color": "#4472C4", "strokeWidth": 1.2, "strokeDash": [4, 2], "clip": false},
  "encoding": {"x": {"datum": 22430, "type": "quantitative", "axis": null}, "y": {"datum": 1.8527, "type": "quantitative", "axis": null}, "x2": {"datum": 30000}, "y2": {"datum": 1.6445}}
 },
 {
  "data": {"values": [{}]},
  "mark": {"type": "rule", "color": "#4472C4", "strokeWidth": 3, "clip": false},
  "encoding": {"x": {"datum": 30000, "type": "quantitative", "axis": null}, "y": {"datum": 1.6445, "type": "quantitative", "axis": null}, "x2": {"datum": 33480}, "y2": {"datum": 1.5489}}
 },
 {
  "data": {"values": [{}]},
  "mark": {"type": "text", "text": "all groups", "font": "Lato", "fontSize": 34, "align": "left", "baseline": "middle", "color": "black", "clip": false},
  "encoding": {"x": {"datum": 35170, "type": "quantitative", "axis": null}, "y": {"datum": 1.768, "type": "quantitative", "axis": null}}
 },
 {
  "data": {"values": [{}]},
  "mark": {"type": "text", "text": "errors 5% or better", "font": "Lato", "fontSize": 34, "align": "left", "baseline": "middle", "color": "black", "clip": false},
  "encoding": {"x": {"datum": 35170, "type": "quantitative", "axis": null}, "y": {"datum": 1.5483, "type": "quantitative", "axis": null}}
 },
 {
  "data": {"values": [{}]},
  "mark": {"type": "text", "text": "cmd", "font": "DejaVu Serif", "fontSize": 15, "fontWeight": "bold", "align": "left", "baseline": "alphabetic", "color": "black", "clip": false},
  "encoding": {"x": {"datum": 13880, "type": "quantitative", "axis": null}, "y": {"datum": 1.4154, "type": "quantitative", "axis": null}}
 },
 {
  "data": {"values": [{}]},
  "mark": {"type": "text", "text": "[km/s]", "font": "DejaVu Serif", "fontSize": 31, "align": "left", "baseline": "alphabetic", "color": "black", "clip": false},
  "encoding": {"x": {"datum": 16820, "type": "quantitative", "axis": null}, "y": {"datum": 1.424, "type": "quantitative", "axis": null}}
 }
],
"resolve": {"axis": {"x": "independent", "y": "independent"}}
}
